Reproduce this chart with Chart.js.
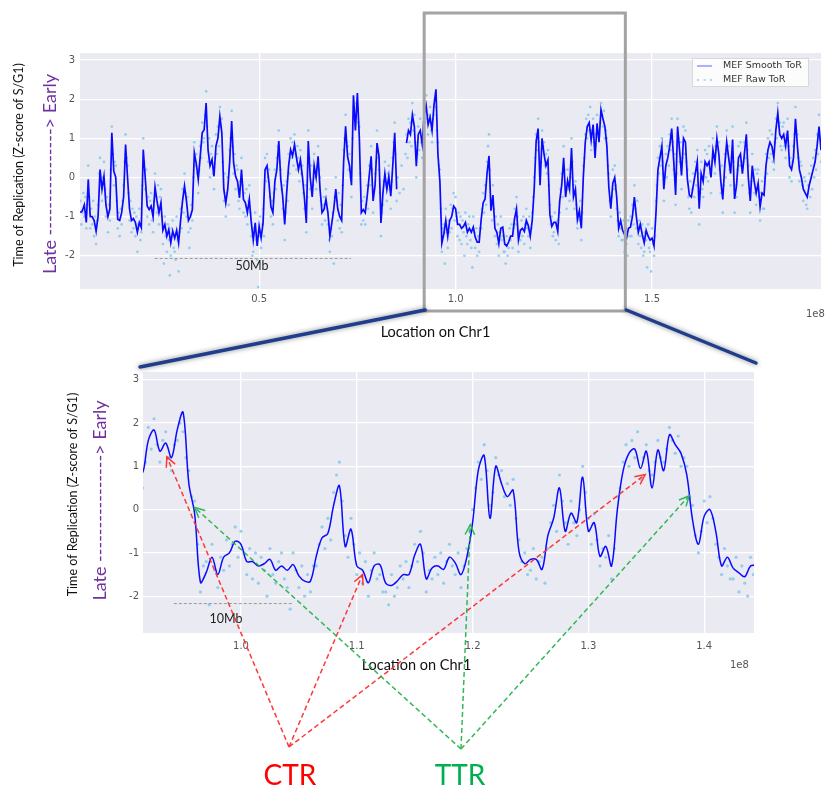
<!DOCTYPE html>
<html lang="en">
<head>
<meta charset="UTF-8">
<title>MEF replication timing - Chr1</title>
<script src="https://cdn.jsdelivr.net/npm/chart.js"></script>
<style>
  html, body { margin: 0; padding: 0; background: #ffffff; }
  #wrap { position: relative; width: 825px; height: 786px; }
  #wrap canvas { position: absolute; left: 0; top: 0; }
</style>
</head>
<body>
<div id="wrap">
  <canvas id="overview" width="825" height="786"></canvas>
  <canvas id="zoomed" width="825" height="786"></canvas>
</div>
<script>
// ---- data (positions in Mb along chr1) ----
// smoothed ToR, one value per 0.5 Mb bin starting at 4.5 Mb (null = no data)
var SMOOTH_START = 4.5, SMOOTH_STEP = 0.5;
var smoothToR = [
  -0.9, -0.85, -0.7, -1.15, -0.05, -1.0, -1.0, -1.1, -1.37, -1.0,
  0.2, -0.3, 0.03, -0.7, -1.0, -0.8, 1.14, 0.16, 0.0, -1.07,
  -1.1, -0.9, -0.5, 0.84, 0.0, -0.8, -1.1, -1.05, -1.15, -1.4,
  -1.15, -1.28, 0.71, 0.0, -0.73, -0.82, -0.73, -1.0, -0.25, -0.6,
  -0.9, -0.65, -1.35, -1.2, -1.5, -1.33, -1.67, -1.37, -1.55, -1.35,
  -1.67, -1.1, -0.6, -0.22, -0.6, -1.1, -1.0, -0.82, 0.63, 0.35,
  -0.05, 0.54, 1.14, 1.22, 1.9, 0.7, 0.3, 0.46, 0.03, 0.8,
  1.0, 1.56, 1.14, -0.3, -0.65, -0.3, 0.4, 1.44, 0.37, 0.03,
  -0.1, -0.52, 0.2, -0.56, -0.65, -0.9, -0.56, -1.15, -1.6, -1.16,
  -1.75, -1.24, -1.54, -1.16, 0.2, 0.3, -0.14, -0.75, -0.9, -0.1,
  0.2, 0.93, -0.05, -0.5, -1.2, -0.4, 0.3, 0.71, 0.55, 0.84,
  0.5, 0.2, 0.45, 0.03, -0.5, -1.16, 0.93, 0.0, -0.5, 0.3,
  0.0, 0.54, -0.3, -0.9, -0.82, -0.56, -0.9, -1.5, -1.16, -0.8,
  -0.3, -0.8, -1.0, -1.1, 0.4, 1.31, 0.54, 0.3, -0.2, 2.1,
  1.2, 2.16, 1.0, -0.9, -0.82, -0.9, -0.48, 0.03, 0.54, -0.6,
  -0.2, 0.88, 0.54, -1.16, -0.4, 0.1, -0.3, 0.03, -0.48, 0.3,
  1.14, -0.3, null, null, null, null, 0.88, 1.2, 1.1, 1.6,
  1.3, 0.29, 1.1, 1.2, 0.85, 1.6, 1.84, 1.35, 1.54, 1.2,
  1.85, 2.25, 0.6, -0.1, -1.68, -1.45, -1.1, -1.5, -1.1, -1.0,
  -0.73, -0.8, -1.2, -1.2, -1.3, -1.25, -1.15, -1.4, -1.3, -1.4,
  -1.27, -1.53, -1.65, -1.65, -1.08, -0.65, -0.55, 0.1, 0.55, -0.85,
  -0.45, -1.3, -1.4, -1.69, -1.3, -1.27, -1.7, -1.75, -1.65, -1.5,
  -1.5, -1.05, -0.8, -1.6, -1.35, -1.3, -1.38, -1.1, -1.23, -1.5,
  -1.1, -0.3, 0.92, 1.25, -0.2, 1.0, 0.6, 0.3, 0.45, -0.95,
  -1.25, -1.15, -1.15, -1.38, -0.6, -0.2, 0.5, -0.5, -0.08, -0.3,
  0.75, -0.5, -0.3, -1.08, -0.85, -1.3, 0.0, 0.9, 1.3, 1.4,
  0.95, 1.35, 0.5, 1.38, 0.9, 1.73, 1.5, 1.3, 0.8, -0.25,
  -0.8, -0.15, 0.0, -0.5, -1.3, -1.1, -1.35, -1.46, -1.55, -1.3,
  -1.27, -1.0, -0.5, -1.0, -1.4, -1.2, -1.45, -1.67, -1.35, -1.5,
  -1.6, -1.55, -1.75, -0.9, 0.2, 0.5, 0.8, -0.3, 0.3, 0.5,
  0.8, 1.25, 0.45, -0.45, 1.3, 0.7, 0.05, 1.0, 0.9, -0.05,
  -0.45, -0.5, -0.2, 0.1, 0.4, -0.8, 0.1, -0.1, 0.4, 0.3,
  0.4, 0.0, 0.7, 0.4, 1.0, 0.6, -0.1, -0.56, 0.3, 0.9,
  0.5, 0.1, 0.97, -0.55, -0.2, 0.5, 0.6, 0.1, 0.6, 1.1,
  0.0, -0.6, 0.3, -0.1, -0.4, -0.15, -0.75, -0.4, -0.45, 0.3,
  0.7, 0.9, 0.8, 0.5, 1.2, 1.65, 1.1, 1.0, 1.1, 0.8,
  1.2, 0.3, 0.2, 0.5, 1.5, 0.8, 0.2, 0.0, -0.3, -0.4,
  -0.5, -0.2, 0.0, 0.2, 0.4, 0.8, 1.3, 0.7
];

// raw ToR, one value per 0.25 Mb bin starting at 4.5 Mb
var RAW_START = 4.5, RAW_STEP = 0.25;
var rawToR = [
  -0.6, -1.2, -0.9, -0.4, -1.0, -0.5, -1.3, -0.7,
  0.3, -0.5, -1.3, -0.8, -1.2, -0.6, -1.5, -1.0,
  -1.7, -1.1, -0.7, 0.1, 0.5, -0.2, -0.6, 0.0,
  0.4, -0.3, -1.0, -0.5, -1.4, -0.7, -1.1, 0.2,
  1.3, 0.6, -0.2, 0.4, 0.3, -0.6, -1.3, -0.9,
  -1.5, -0.8, -1.2, -0.6, -0.2, 0.4, 1.1, 0.5,
  0.3, -0.4, -1.1, -0.6, -1.4, -0.8, -1.3, -0.9,
  -1.5, -1.0, -1.9, -1.2, -0.8, -1.6, -1.4, -0.2,
  1.0, 0.4, -0.3, 0.2, -1.0, -0.5, -1.2, -0.6,
  -0.4, -1.1, -1.4, -0.6, 0.1, -0.5, -0.9, -0.2,
  -1.2, -0.5, -0.3, -1.0, -1.7, -2.2, -1.0, -1.5,
  -1.9, -1.2, -1.6, -2.5, -2.0, -1.3, -1.1, -1.8,
  -1.9, -2.1, -1.0, -1.6, -2.4, -1.4, -0.8, -1.3,
  -0.3, -0.9, 0.1, -0.4, -1.0, -0.5, -1.4, -1.8,
  -1.3, -0.7, -1.1, 0.0, 0.9, 0.3, 0.6, 0.1,
  -0.4, 0.2, 0.8, 0.5, 1.4, 0.9, 1.0, 1.6,
  2.2, 1.3, 0.4, 1.0, 0.0, 0.6, 0.8, 0.1,
  -0.3, 0.5, 1.1, 0.6, 1.3, 0.8, 1.8, 1.3,
  1.5, 0.4, -0.6, 0.1, -1.0, -0.4, 0.0, -0.7,
  0.7, 1.0, 1.7, 0.8, 0.1, 0.6, -0.3, 0.3,
  0.2, -0.6, -0.8, -0.1, 0.5, -0.2, -0.9, -0.4,
  -1.0, -0.3, -1.2, -0.6, -0.2, -0.9, -1.5, -2.0,
  -1.9, -1.3, -0.9, -1.6, -2.1, -2.8, -1.5, -1.0,
  -1.8, -1.2, -0.8, -1.5, 0.5, -0.1, 0.6, 0.0,
  0.2, -0.5, -1.0, -0.6, -1.2, -0.4, 0.2, -0.3,
  0.5, 0.8, 1.2, 0.4, 0.2, -0.3, -0.8, -0.2,
  -1.6, -0.9, -0.1, -0.6, 0.6, 0.1, 1.0, 0.5,
  0.9, 0.3, 1.1, 0.6, 0.2, 0.8, 0.5, -0.1,
  0.7, 0.1, 0.3, -0.4, -0.8, -0.2, -1.4, -0.5,
  1.2, 0.5, -0.3, 0.3, -0.8, -0.2, 0.6, 0.0,
  -0.3, 0.3, 0.8, 0.2, 0.0, -0.6, -1.2, -0.7,
  -0.5, -1.1, -0.3, -0.8, -1.2, -1.6, -1.9, -1.3,
  -1.5, -0.9, -2.2, -0.5, 0.0, -0.6, -1.1, -0.4,
  -1.3, -0.7, -1.4, -0.2, 0.7, 1.0, 1.6, 0.9,
  0.8, 0.2, 0.6, 0.0, -0.5, 1.0, 1.8, 1.5,
  1.5, 1.9, 1.8, 1.4, 1.3, 0.1, -1.2, -0.6,
  -1.1, -0.5, -1.2, -0.7, -0.2, -0.8, 0.3, -0.2,
  0.8, 0.2, -0.9, -0.3, 0.1, 0.4, 1.2, 0.5,
  0.2, -0.4, -1.5, -0.9, -0.7, -0.1, 0.4, -0.2,
  -0.6, 0.1, 0.3, -0.3, -0.8, -0.1, 0.5, 0.9,
  1.4, 0.6, -0.6, 0.0, null, -0.4, null, 0.3,
  null, -0.3, null, 0.6, 1.1, 0.5, 1.5, 0.9,
  1.4, 0.8, 1.9, 1.2, 1.6, 0.9, 0.0, 0.6,
  1.3, 0.7, 1.5, 0.9, 0.5, 1.1, 1.9, 1.4,
  2.1, 1.5, 1.1, 1.6, 1.8, 1.2, 0.9, 1.5,
  1.6, 2.0, 1.8, 1.2, 0.9, 0.3, 0.2, -0.8,
  -1.9, -1.3, -1.2, -2.2, -0.8, -1.4, -1.8, -1.1,
  -1.4, -0.7, -1.3, -0.8, -0.4, -1.1, -0.5, -1.0,
  -1.5, -0.9, -1.6, -1.0, -1.7, -1.1, -1.4, -2.0,
  -0.9, -1.5, -1.7, -1.2, -1.0, -1.6, -1.8, -2.3,
  -1.0, -1.4, -1.8, -1.3, -2.0, -1.5, -1.9, -1.3,
  -1.3, -0.8, -0.4, -0.9, -0.2, -0.7, 0.4, 0.8,
  1.1, 0.2, -0.6, -1.1, -0.2, -0.8, -1.5, -1.0,
  -1.7, -1.2, -2.0, -1.4, -1.0, -1.6, -1.5, -1.9,
  -1.9, -2.2, -1.5, -2.0, -1.8, -1.3, -1.6, -1.2,
  -1.8, -1.3, -0.8, -1.2, -0.5, -1.0, -1.9, -1.4,
  -1.6, -1.1, -1.5, -1.0, -1.7, -1.2, -0.8, -1.3,
  -1.5, -1.0, -1.8, -1.3, -0.9, -0.5, 0.0, 0.5,
  1.1, 0.7, 1.5, 0.9, 0.1, 0.4, 1.2, 0.8,
  0.9, 0.3, 0.6, 0.1, 0.7, -0.2, -0.7, -1.2,
  -1.0, -1.5, -1.4, -0.9, -1.6, -1.2, -1.1, -1.7,
  -0.9, -0.3, 0.1, -0.5, 0.8, 0.2, -0.3, -0.8,
  0.2, -0.3, -0.6, 0.0, 1.0, 0.4, -0.2, -0.8,
  -0.1, -0.7, -1.3, -0.9, -1.1, -0.6, -1.6, -0.9,
  0.3, 0.5, 1.1, 1.5, 1.0, 1.6, 1.2, 1.8,
  0.7, 1.2, 1.5, 0.9, 0.8, 1.1, 1.6, 1.2,
  1.1, 1.4, 1.9, 1.6, 1.3, 1.7, 1.0, 1.2,
  1.0, 0.3, 0.1, -0.6, -1.0, -0.5, 0.2, -0.3,
  0.3, -0.2, -0.8, -1.1, -1.5, -0.9, -1.3, -1.6,
  -1.6, -1.1, -1.9, -1.3, -1.7, -2.0, -1.1, -1.5,
  -1.0, -1.5, -0.7, -1.2, -0.2, -0.8, -1.3, -0.6,
  -1.7, -1.1, -1.5, -1.8, -1.2, -2.0, -1.9, -1.4,
  -1.6, -2.3, -1.2, -1.8, -1.9, -2.4, -1.3, -1.7,
  -2.0, -1.5, -0.6, -0.2, 0.5, 0.1, 0.8, 0.3,
  1.0, 0.4, -0.6, 0.1, 0.6, 0.0, 0.8, 0.3,
  1.1, 0.7, 1.5, 0.9, 0.2, 0.6, -0.7, 0.1,
  1.5, 1.0, 0.4, 0.9, -0.3, 0.5, 1.3, 0.6,
  1.2, 0.4, 0.2, -0.5, -0.8, -0.1, -0.9, -0.3,
  0.1, -0.5, 0.4, -0.2, 0.7, 0.1, -1.2, -0.4,
  0.4, -0.3, -0.5, 0.2, 0.7, 0.0, 0.6, -0.1,
  0.8, 0.1, -0.4, 0.4, 1.0, 0.5, 0.1, 0.8,
  1.3, 0.7, 0.9, 0.2, -0.4, 0.3, -0.9, -0.2,
  0.6, 0.0, 1.2, 0.6, 0.8, 0.2, -0.2, 0.5,
  1.3, 0.4, -0.9, -0.2, -0.5, 0.2, 0.8, 0.3,
  0.9, 0.3, -0.2, 0.4, 0.9, 0.5, 1.4, 0.7,
  0.3, -0.4, -0.9, -0.1, 0.6, 0.0, -0.4, 0.2,
  -0.7, 0.1, 0.2, -0.5, -1.1, -0.4, -0.1, -0.8,
  -0.8, 0.0, 0.6, 0.1, 1.0, 0.5, 1.2, 0.6,
  1.1, 0.4, 0.2, 0.9, 1.5, 1.0, 1.9, 1.3,
  1.4, 0.8, 0.7, 1.3, 1.4, 0.8, 0.5, 1.1,
  1.5, 0.8, 0.0, 0.5, -0.1, 0.4, 0.8, 1.1,
  1.8, 1.2, 1.1, 0.5, -0.1, 0.4, 0.3, -0.2,
  -0.6, 0.0, -0.1, -0.7, -0.8, -0.2, 0.1, -0.5,
  0.3, -0.3, 0.5, 0.0, 0.7, 0.2, 1.1, 0.6,
  1.6, 1.0, 0.4
];

// axis ranges / ticks (x in Mb, shown as 1e8 units)
var overviewRange = [4.4, 193.0];
var zoomRange = [91.54, 144.3];
var zoomBox = [92.0, 143.2];
var yRange = [-2.85, 3.18];
var overviewXTicks = [50, 100, 150];
var zoomXTicks = [100, 110, 120, 130, 140];
var yTicks = [-2, -1, 0, 1, 2, 3];

// 50Mb / 10Mb scale bars [start, end, y, label x, label y]
var overviewBar = [23.4, 73.4, -2.07, 48.2, -2.27];
var zoomBar = [94.2, 104.4, -2.17, 98.7, -2.53];

// arrow targets on the zoomed plot [Mb, z]
var ctrTargets = [[93.6, 1.22], [110.5, -1.5], [134.9, 0.81]];
var ttrTargets = [[96.0, 0.05], [119.8, -0.35], [138.7, 0.32]];

var yTitle = 'Time of Replication (Z-score of S/G1)';
var lateEarly = 'Late ----------------> Early';
var xTitle = 'Location on Chr1';

// ---- helpers ----
function binPoints(values, start, step) {
  var pts = [];
  for (var i = 0; i < values.length; i++) {
    pts.push({ x: start + i * step, y: values[i] });
  }
  return pts;
}

var tickFont = { family: 'DejaVu Sans', size: 10 };
var tickColor = '#555555';

function makeScales(xr, xTicks, yWidth, xHeight, xPad, yPad) {
  return {
    x: {
      type: 'linear', min: xr[0], max: xr[1],
      afterBuildTicks: function (s) { s.ticks = xTicks.map(function (v) { return { value: v }; }); },
      afterFit: function (s) { s.height = xHeight; },
      ticks: { callback: function (v) { return (v / 100).toFixed(1); }, font: tickFont, color: tickColor, padding: xPad, maxRotation: 0, autoSkip: false },
      grid: { color: '#ffffff', lineWidth: 1.3, drawTicks: false },
      border: { display: false }
    },
    y: {
      type: 'linear', min: yRange[0], max: yRange[1],
      afterBuildTicks: function (s) { s.ticks = yTicks.map(function (v) { return { value: v }; }); },
      afterFit: function (s) { s.width = yWidth; },
      ticks: { callback: function (v) { return String(v); }, font: tickFont, color: tickColor, padding: yPad, autoSkip: false },
      grid: { color: '#ffffff', lineWidth: 1.3, drawTicks: false },
      border: { display: false }
    }
  };
}

function makeDatasets(lineWidth, tension, dotRadius) {
  return [{
    label: 'MEF Smooth ToR',
    data: binPoints(smoothToR, SMOOTH_START, SMOOTH_STEP),
    showLine: true, spanGaps: false,
    borderColor: '#0a0aff', borderWidth: lineWidth, tension: tension,
    pointRadius: 0
  }, {
    label: 'MEF Raw ToR',
    data: binPoints(rawToR, RAW_START, RAW_STEP),
    showLine: false,
    pointRadius: dotRadius, pointBorderWidth: 0,
    pointBackgroundColor: 'rgba(130, 200, 235, 0.85)'
  }];
}

function paintPlotBg(chart) {
  var a = chart.chartArea, ctx = chart.ctx;
  ctx.save();
  ctx.fillStyle = '#eaeaf2';
  ctx.fillRect(a.left, a.top, a.right - a.left, a.bottom - a.top);
  ctx.restore();
}

function vText(ctx, text, x, y, font, color) {
  ctx.save();
  ctx.translate(x, y);
  ctx.rotate(-Math.PI / 2);
  ctx.font = font; ctx.fillStyle = color;
  ctx.textAlign = 'center'; ctx.textBaseline = 'middle';
  ctx.fillText(text, 0, 0);
  ctx.restore();
}

function hText(ctx, text, x, y, font, color, align) {
  ctx.save();
  ctx.font = font; ctx.fillStyle = color;
  ctx.textAlign = align || 'center'; ctx.textBaseline = 'middle';
  ctx.fillText(text, x, y);
  ctx.restore();
}

function scaleBar(chart, bar, label) {
  var ctx = chart.ctx, sx = chart.scales.x, sy = chart.scales.y;
  var y = sy.getPixelForValue(bar[2]);
  ctx.save();
  ctx.strokeStyle = '#9a9a9a'; ctx.lineWidth = 1;
  ctx.setLineDash([3, 2]);
  ctx.beginPath();
  ctx.moveTo(sx.getPixelForValue(bar[0]), y);
  ctx.lineTo(sx.getPixelForValue(bar[1]), y);
  ctx.stroke();
  ctx.restore();
  hText(ctx, label, sx.getPixelForValue(bar[3]), sy.getPixelForValue(bar[4]), '12.5px Lato', '#222');
}

function dashedArrow(ctx, x0, y0, x1, y1, color) {
  ctx.save();
  ctx.strokeStyle = color; ctx.lineWidth = 1.5;
  ctx.setLineDash([5, 3]);
  ctx.beginPath(); ctx.moveTo(x0, y0); ctx.lineTo(x1, y1); ctx.stroke();
  ctx.setLineDash([]);
  var ang = Math.atan2(y1 - y0, x1 - x0), h = 11;
  ctx.beginPath();
  ctx.moveTo(x1 - h * Math.cos(ang - 0.45), y1 - h * Math.sin(ang - 0.45));
  ctx.lineTo(x1, y1);
  ctx.lineTo(x1 - h * Math.cos(ang + 0.45), y1 - h * Math.sin(ang + 0.45));
  ctx.stroke();
  ctx.restore();
}

// ---- overview chart (whole chr1) ----
var overviewDecor = {
  id: 'overviewDecor',
  beforeDraw: paintPlotBg,
  afterDraw: function (chart) {
    var ctx = chart.ctx, a = chart.chartArea;
    var midY = (a.top + a.bottom) / 2;
    vText(ctx, yTitle, a.left - 61, midY - 6, '12.5px Lato', '#111');
    vText(ctx, lateEarly, a.left - 30, midY + 3, '18px Lato', '#7030a0');
    hText(ctx, xTitle, (a.left + a.right) / 2 - 15, a.bottom + 43, '14.5px Lato', '#111');
    hText(ctx, '1e8', a.right - 15, a.bottom + 25, '10px DejaVu Sans', tickColor, 'left');
    scaleBar(chart, overviewBar, '50Mb');

    // legend
    var lx = a.right - 129, ly = a.top + 5;
    ctx.save();
    ctx.fillStyle = 'rgba(255,255,255,0.85)';
    ctx.strokeStyle = '#d8d8d8'; ctx.lineWidth = 1;
    ctx.fillRect(lx, ly, 117, 29);
    ctx.strokeRect(lx + 0.5, ly + 0.5, 116, 28);
    ctx.strokeStyle = 'rgba(30,30,255,0.35)'; ctx.lineWidth = 2;
    ctx.beginPath(); ctx.moveTo(lx + 5, ly + 8); ctx.lineTo(lx + 20, ly + 8); ctx.stroke();
    ctx.fillStyle = 'rgba(135,206,235,0.9)';
    [lx + 6, lx + 12.5, lx + 19].forEach(function (px) {
      ctx.beginPath(); ctx.arc(px, ly + 22, 1.1, 0, Math.PI * 2); ctx.fill();
    });
    ctx.restore();
    hText(ctx, 'MEF Smooth ToR', lx + 31, ly + 8, '9.5px DejaVu Sans', '#333', 'left');
    hText(ctx, 'MEF Raw ToR', lx + 31, ly + 22, '9.5px DejaVu Sans', '#333', 'left');
  }
};

var overviewChart = new Chart(document.getElementById('overview'), {
  type: 'scatter',
  data: { datasets: makeDatasets(1.7, 0, 1.35) },
  options: {
    responsive: false, animation: false, events: [],
    layout: { padding: { left: 0, right: 0, top: 53, bottom: 441 } },
    scales: makeScales(overviewRange, overviewXTicks, 80, 56, 4, 5),
    plugins: { legend: { display: false }, tooltip: { enabled: false } }
  },
  plugins: [overviewDecor]
});

// ---- zoomed chart + annotations ----
var ctrOrigin = { x: 289, y: 747 };
var ttrOrigin = { x: 461, y: 749 };

var zoomDecor = {
  id: 'zoomDecor',
  beforeDraw: paintPlotBg,
  afterDraw: function (chart) {
    var ctx = chart.ctx, a = chart.chartArea;
    var sx = chart.scales.x, sy = chart.scales.y;
    var midY = (a.top + a.bottom) / 2;
    vText(ctx, yTitle, a.left - 70, midY - 8, '12.5px Lato', '#111');
    vText(ctx, lateEarly, a.left - 43, midY - 2, '18px Lato', '#7030a0');
    hText(ctx, xTitle, (a.left + a.right) / 2 - 32, a.bottom + 32, '14.5px Lato', '#111');
    hText(ctx, '1e8', a.right - 24, a.bottom + 32, '10px DejaVu Sans', tickColor, 'left');
    scaleBar(chart, zoomBar, '10Mb');

    // zoom window on the overview
    var ta = overviewChart.chartArea, tx = overviewChart.scales.x;
    var bx0 = tx.getPixelForValue(zoomBox[0]), bx1 = tx.getPixelForValue(zoomBox[1]);
    var by0 = ta.top - 40, by1 = ta.bottom + 22;
    ctx.save();
    ctx.strokeStyle = '#a3a3a3'; ctx.lineWidth = 3;
    ctx.strokeRect(bx0, by0, bx1 - bx0, by1 - by0);

    // connectors to the zoomed panel
    ctx.shadowColor = 'rgba(30,30,50,0.55)'; ctx.shadowBlur = 5;
    ctx.strokeStyle = '#1f3d8a'; ctx.lineWidth = 3.5; ctx.lineCap = 'round';
    ctx.beginPath();
    ctx.moveTo(bx0 + 1, by1 - 1); ctx.lineTo(a.left - 3, a.top - 5);
    ctx.moveTo(bx1 + 1, by1 - 1); ctx.lineTo(a.right + 2, a.top - 9);
    ctx.stroke();
    ctx.restore();

    // CTR / TTR arrows
    ctrTargets.forEach(function (t) {
      dashedArrow(ctx, ctrOrigin.x, ctrOrigin.y, sx.getPixelForValue(t[0]), sy.getPixelForValue(t[1]), 'rgba(255,45,45,0.95)');
    });
    ttrTargets.forEach(function (t) {
      dashedArrow(ctx, ttrOrigin.x, ttrOrigin.y, sx.getPixelForValue(t[0]), sy.getPixelForValue(t[1]), 'rgba(40,180,80,0.95)');
    });
    ctx.save();
    ctx.font = '28px Lato'; ctx.textAlign = 'center'; ctx.textBaseline = 'alphabetic';
    ctx.fillStyle = '#ff0000'; ctx.fillText('CTR', ctrOrigin.x + 1, 785);
    ctx.fillStyle = '#00b050'; ctx.fillText('TTR', ttrOrigin.x - 1, 785);
    ctx.restore();
  }
};

var zoomChart = new Chart(document.getElementById('zoomed'), {
  type: 'scatter',
  data: { datasets: makeDatasets(1.5, 0.35, 1.6) },
  options: {
    responsive: false, animation: false, events: [],
    layout: { padding: { left: 0, right: 71, top: 372, bottom: 113 } },
    scales: makeScales(zoomRange, zoomXTicks, 143, 40, 7, 4),
    plugins: { legend: { display: false }, tooltip: { enabled: false } }
  },
  plugins: [zoomDecor]
});
</script>
</body>
</html>
